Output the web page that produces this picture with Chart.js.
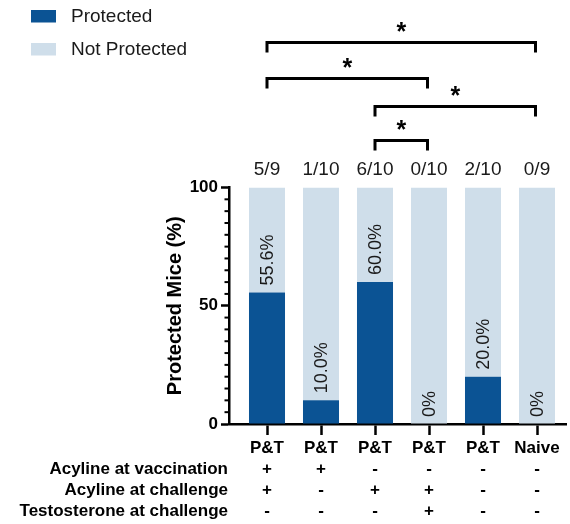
<!DOCTYPE html>
<html><head><meta charset="utf-8">
<script src="https://cdn.jsdelivr.net/npm/chart.js@4.4.1/dist/chart.umd.min.js"></script>
<style>html,body{margin:0;padding:0;background:#fff}#wrap{width:570px;height:524px}</style>
</head><body><div id="wrap"><canvas id="c" width="570" height="524"></canvas></div>
<script>
const groups = ['P&T','P&T','P&T','P&T','P&T','Naive'];
const protectedPct = [55.6, 10.0, 60.0, 0, 20.0, 0];
const notProtectedPct = [44.4, 90.0, 40.0, 100, 80.0, 100];
const fractionLabels = ['5/9','1/10','6/10','0/10','2/10','0/9'];
const percentLabels = ['55.6%','10.0%','60.0%','0%','20.0%','0%'];
const rowHeaders = ['Acyline at vaccination','Acyline at challenge','Testosterone at challenge'];
const acylineVaccination = ['+','+','-','-','-','-'];
const acylineChallenge = ['+','-','+','+','-','-'];
const testosteroneChallenge = ['-','-','-','+','-','-'];
const tableRows = [acylineVaccination, acylineChallenge, testosteroneChallenge];
const yTickValues = [0, 50, 100];
const comparisons = [[0,5],[0,3],[2,5],[2,3]];
const comparisonMarks = ['*','*','*','*'];

const FONT = "'Liberation Sans', Arial, Helvetica, sans-serif";
const DARK = '#0b5394';
const LIGHT = '#cfdeea';
const TXT = '#1a1a1a';

const bracketOffsets = [145, 109, 81, 47]; // px above plot top

const annot = {
  id: 'annot',
  afterDraw(chart) {
    const ctx = chart.ctx;
    const x = chart.scales.x, y = chart.scales.y;
    const top = chart.chartArea.top, bottom = chart.chartArea.bottom, left = chart.chartArea.left;
    ctx.save();
    // minor y ticks
    ctx.strokeStyle = '#000'; ctx.lineWidth = 2;
    for (let v = 0; v <= 100; v += 5) {
      if (v % 50 === 0) continue;
      const py = y.getPixelForValue(v);
      ctx.beginPath(); ctx.moveTo(left - 4.5, py); ctx.lineTo(left, py); ctx.stroke();
    }
    // fractions above bars
    ctx.fillStyle = TXT;
    ctx.font = '19px ' + FONT;
    ctx.textAlign = 'center'; ctx.textBaseline = 'alphabetic';
    fractionLabels.forEach((t, i) => ctx.fillText(t, x.getPixelForValue(i), top - 13));
    // percent labels (rotated)
    const meta = chart.getDatasetMeta(0);
    ctx.font = '18px ' + FONT;
    meta.data.forEach((el, i) => {
      ctx.save();
      ctx.translate(el.x, el.y - 7);
      ctx.rotate(-Math.PI / 2);
      ctx.textAlign = 'left'; ctx.textBaseline = 'middle';
      ctx.fillText(percentLabels[i], 0, 1);
      ctx.restore();
    });
    // brackets
    ctx.strokeStyle = '#000'; ctx.lineWidth = 3; ctx.lineJoin = 'miter'; ctx.lineCap = 'butt';
    comparisons.forEach((pair, k) => {
      const x1 = x.getPixelForValue(pair[0]), x2 = x.getPixelForValue(pair[1]) - 1.5;
      const by = top - bracketOffsets[k];
      ctx.beginPath();
      ctx.moveTo(x1, by + 10); ctx.lineTo(x1, by); ctx.lineTo(x2, by); ctx.lineTo(x2, by + 10);
      ctx.stroke();
      ctx.fillStyle = '#000';
      ctx.font = 'bold 25px ' + FONT;
      ctx.textAlign = 'center'; ctx.textBaseline = 'alphabetic';
      ctx.fillText(comparisonMarks[k], (x1 + x2) / 2, by - 3);
    });
    // table below axis
    ctx.fillStyle = '#000';
    ctx.font = 'bold 17px ' + FONT;
    ctx.textBaseline = 'middle';
    tableRows.forEach((row, r) => {
      const ry = bottom + 45 + r * 21;
      ctx.textAlign = 'right';
      ctx.fillText(rowHeaders[r], left - 1, ry);
      ctx.textAlign = 'center';
      row.forEach((s, i) => ctx.fillText(s, x.getPixelForValue(i), ry));
    });
    // legend
    ctx.font = '19px ' + FONT;
    ctx.textAlign = 'left'; ctx.textBaseline = 'middle';
    chart.data.datasets.forEach((ds, k) => {
      const ly = 16 + k * 33;
      ctx.fillStyle = ds.backgroundColor;
      ctx.fillRect(31, ly - 6, 25, 12.5);
      ctx.fillStyle = TXT;
      ctx.fillText(ds.label, 71, ly + 1);
    });
    ctx.restore();
  }
};

new Chart(document.getElementById('c'), {
  type: 'bar',
  data: {
    datasets: [
      { label: 'Protected', data: protectedPct.map((v, i) => ({x: i, y: v})), backgroundColor: DARK,
        categoryPercentage: 1, barPercentage: 0.667 },
      { label: 'Not Protected', data: notProtectedPct.map((v, i) => ({x: i, y: v})), backgroundColor: LIGHT,
        categoryPercentage: 1, barPercentage: 0.667 }
    ]
  },
  options: {
    responsive: false,
    animation: false,
    layout: { padding: { top: 187.5, right: 4, left: 0, bottom: 0 } },
    plugins: { legend: { display: false }, tooltip: { enabled: false } },
    scales: {
      x: {
        type: 'linear', stacked: true, min: -0.7037, max: 5.537, offset: false,
        afterBuildTicks: s => { s.ticks = groups.map((_, i) => ({ value: i })); },
        afterFit: s => { s.height = 100; },
        ticks: {
          autoSkip: false, maxRotation: 0, minRotation: 0, padding: 3,
          callback: v => groups[v],
          font: { family: FONT, size: 17, weight: 'bold' }, color: '#000'
        },
        grid: { display: true, offset: false, drawOnChartArea: false, drawTicks: true, tickLength: 11, tickColor: '#000', tickWidth: 2.5 },
        border: { display: true, color: '#000', width: 2.5 }
      },
      y: {
        stacked: true, min: 0, max: 100,
        afterBuildTicks: s => { s.ticks = yTickValues.map(v => ({ value: v })); },
        afterFit: s => { s.width = 229; },
        ticks: { padding: 3, font: { family: FONT, size: 17, weight: 'bold' }, color: '#000' },
        grid: { display: true, drawOnChartArea: false, drawTicks: true, tickLength: 8, tickColor: '#000', tickWidth: 2.5 },
        border: { display: true, color: '#000', width: 2.5 },
        title: { display: true, text: 'Protected Mice (%)', color: '#000',
          font: { family: FONT, size: 20, weight: 'bold' }, padding: { top: 163, bottom: 0 } }
      }
    }
  },
  plugins: [annot]
});
</script></body></html>
